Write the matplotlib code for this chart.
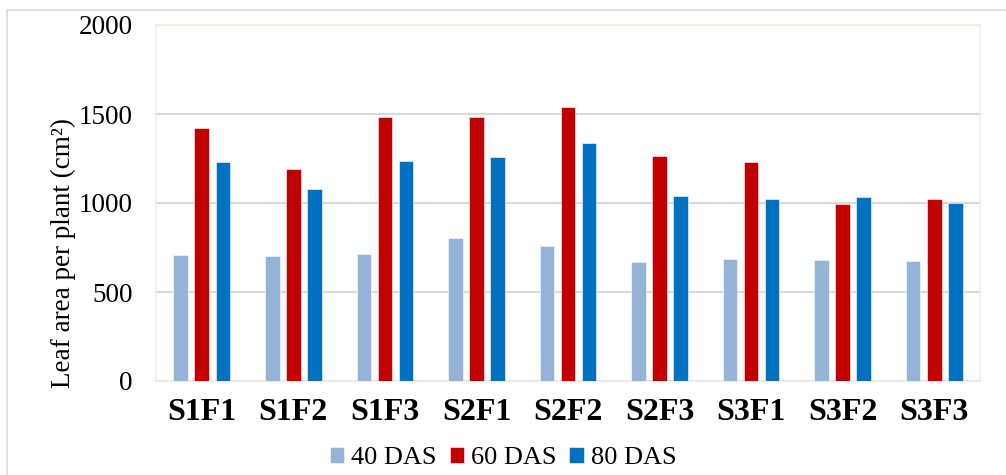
import matplotlib.pyplot as plt
import numpy as np
from matplotlib.patches import Rectangle

plt.rcParams['font.family'] = ['Liberation Serif', 'DejaVu Serif']

treatments = ["S1F1", "S1F2", "S1F3", "S2F1", "S2F2", "S2F3", "S3F1", "S3F2", "S3F3"]
das_40 = [707, 700, 711, 801, 761, 668, 686, 679, 675]
das_60 = [1420, 1189, 1485, 1485, 1538, 1266, 1228, 994, 1022]
das_80 = [1232, 1076, 1234, 1258, 1337, 1039, 1022, 1033, 999]
series_names = ["40 DAS", "60 DAS", "80 DAS"]
colors = ["#95b3d7", "#c00000", "#0070c0"]

fig = plt.figure(figsize=(10.06, 4.75), dpi=100)
ax = fig.add_axes([156 / 1006, 1 - 381 / 475, (980 - 156) / 1006, (381 - 25) / 475])

x = np.arange(len(treatments))
width = 0.16
offset = 0.23
for k, (vals, name, col) in enumerate(zip([das_40, das_60, das_80], series_names, colors)):
    ax.bar(x + (k - 1) * offset, vals, width, color=col, label=name,
           edgecolor="white", linewidth=0.4, zorder=3)

ax.set_xlim(-0.5, len(treatments) - 0.5)
ax.set_ylim(0, 2000)
ax.set_yticks([0, 500, 1000, 1500, 2000])
ax.yaxis.grid(True, color="#d9d9d9", linewidth=1.5, zorder=0)
ax.tick_params(axis="y", length=0, labelsize=19.5, pad=17)
ax.tick_params(axis="x", length=0, labelsize=23, pad=12)
ax.set_xticks(x)
ax.set_xticklabels(treatments, fontweight="bold")
for s in ax.spines.values():
    s.set_color("#eeece1")
    s.set_linewidth(1.2)
ax.set_ylabel("Leaf area per plant (cm²)", fontsize=19.5, labelpad=0)
ax.yaxis.set_label_coords(-80 / 824, 0.36)

fig.legend(loc="center", bbox_to_anchor=(503 / 1006, 1 - 458 / 475), ncol=3, frameon=False,
           fontsize=19, handlelength=0.55, handleheight=0.55, handletextpad=0.25,
           columnspacing=0.5, borderaxespad=0)

fig.patches.append(Rectangle((7 / 1006, -10 / 475), 1020 / 1006, 475 / 475,
                             transform=fig.transFigure, fill=False,
                             edgecolor="#d9d9d9", linewidth=1.2))

fig.savefig("out.png", dpi=100)
